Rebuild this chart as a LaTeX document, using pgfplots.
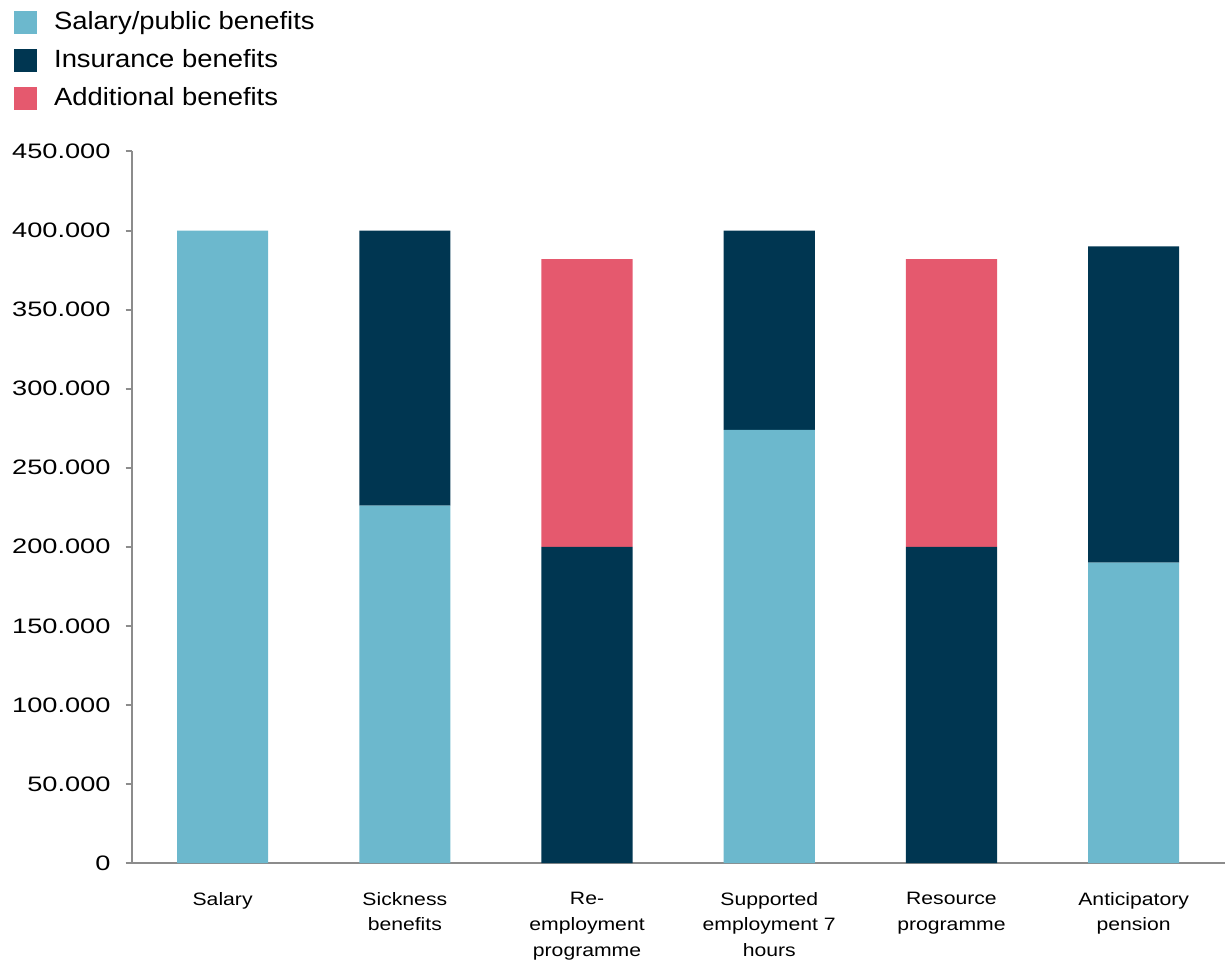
\documentclass[border=0pt]{standalone}
\usepackage{fontspec}
\setmainfont{Liberation Sans}
\newfontfamily\numfam[FakeStretch=1.3]{Liberation Sans}
\newfontfamily\legfam[FakeStretch=1.1]{Liberation Sans}
\newfontfamily\xfam[FakeStretch=1.18]{Liberation Sans}
\usepackage{pgfplots}
\pgfplotsset{compat=1.18}
\definecolor{lightb}{HTML}{6CB8CD}
\definecolor{darkb}{HTML}{003651}
\definecolor{redb}{HTML}{E5596E}
\definecolor{axgray}{HTML}{8C8C8C}
\begin{document}
\begin{tikzpicture}
\begin{axis}[
  scale only axis,
  width=548.5pt, height=357pt,
  ybar stacked,
  bar width=0.5,
  xmin=-0.5, xmax=5.5,
  ymin=0, ymax=450000,
  ytick={0,50000,...,450000},
  scaled y ticks=false,
  /pgf/number format/.cd, fixed, 1000 sep={.}, assume math mode=true,
  /pgfplots/.cd,
  axis x line*=bottom, axis y line*=left,
  axis line style={axgray, line width=1pt},
  tick align=outside,
  major tick length=3pt,
  ytick style={axgray, line width=1pt},
  xtick={0,...,5},
  xtick style={draw=none},
  minor xtick={-0.5,0.5,...,5.5},
  minor tick length=4pt,
  minor x tick style={axgray, line width=1pt},
  xticklabels={{Salary},{Sickness\\benefits},{Re-\\employment\\programme},{Supported\\employment 7\\hours},{Resource\\programme},{Anticipatory\\pension}},
  xticklabel style={font=\xfam\fontsize{9}{13}\selectfont, text width=90pt, align=center, yshift=-8pt},
  yticklabel style={font=\numfam\fontsize{10.5}{12}\selectfont, xshift=-4pt},
  legend style={at={(-0.1076,1.1975)}, anchor=north west, draw=none, fill=none,
    inner sep=0pt, row sep=7.5pt, font=\legfam\fontsize{12.5}{14}\selectfont,
    nodes={inner sep=0pt, text height=9pt, text depth=2.5pt},
    /tikz/column 1/.style={column sep=8.5pt}},
  legend cell align=left,
  legend image code/.code={\fill[#1] (0pt,-5.75pt) rectangle (11.5pt,5.75pt);},
  clip=false,
]
\addplot[fill=lightb, draw=none] coordinates {(0,400000) (1,226000) (2,0) (3,274000) (4,0) (5,190000)};
\addplot[fill=darkb, draw=none] coordinates {(0,0) (1,174000) (2,200000) (3,126000) (4,200000) (5,200000)};
\addplot[fill=redb, draw=none] coordinates {(0,0) (1,0) (2,182000) (3,0) (4,182000) (5,0)};
\legend{Salary/public benefits, Insurance benefits, Additional benefits}
\path (rel axis cs:-0.1203,-0.1317) rectangle (rel axis cs:1.0009,1.2129);
\end{axis}
\end{tikzpicture}
\end{document}
